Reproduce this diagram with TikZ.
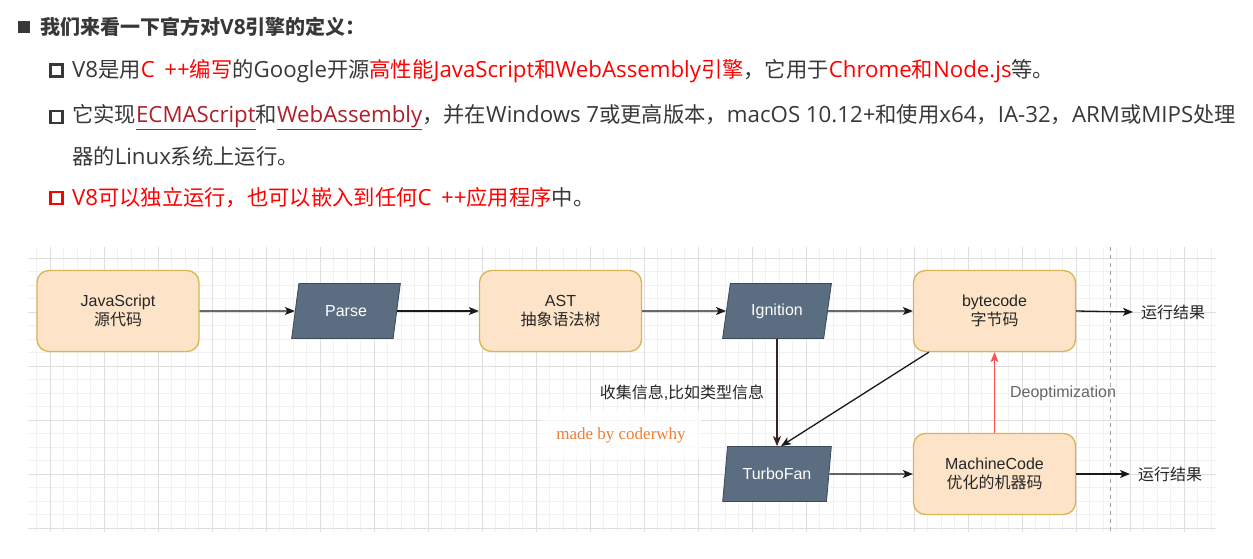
\documentclass[tikz,border=0pt]{standalone}
\usepackage{fontspec}
\usetikzlibrary{shapes.geometric,arrows.meta,calc}
\setmainfont{Open Sans}[Scale=1.045]
\newfontfamily\cjkfont{Noto Sans CJK SC}
\newfontfamily\arialfont{Liberation Sans}
\newfontfamily\timesfont{Liberation Serif}
\newcommand\latinfont{\rmfamily}
% automatic switching between Latin and CJK fonts
\XeTeXinterchartokenstate=1
\newXeTeXintercharclass\cjkclass
\newcount\mycnt
\mycnt="3000 \loop \XeTeXcharclass\mycnt=\cjkclass \advance\mycnt by 1 \ifnum\mycnt<"3040 \repeat
\mycnt="4E00 \loop \XeTeXcharclass\mycnt=\cjkclass \advance\mycnt by 1 \ifnum\mycnt<"A000 \repeat
\mycnt="FF00 \loop \XeTeXcharclass\mycnt=\cjkclass \advance\mycnt by 1 \ifnum\mycnt<"FF60 \repeat
\XeTeXinterchartoks 0 \cjkclass = {\cjkfont}
\XeTeXinterchartoks 4095 \cjkclass = {\cjkfont}
\XeTeXinterchartoks \cjkclass 0 = {\latinfont}
\XeTeXinterchartoks 4095 0 = {\latinfont}

\definecolor{tgray}{HTML}{383838}
\definecolor{hred}{HTML}{FF0000}
\definecolor{ured}{HTML}{B0202A}
\definecolor{boxfill}{HTML}{FDE4C8}
\definecolor{boxstroke}{HTML}{D6B656}
\definecolor{parafill}{HTML}{5B6D80}
\definecolor{parastroke}{HTML}{3A4A5B}
\definecolor{minorg}{HTML}{F1F1F1}
\definecolor{majorg}{HTML}{DEDEDE}
\definecolor{labgray}{HTML}{666666}
\definecolor{wmorange}{HTML}{EE7F33}
\definecolor{arrbrown}{HTML}{3A2222}
\definecolor{deored}{HTML}{FF5050}

\newcommand\topfont{\def\latinfont{\rmfamily}\rmfamily\fontsize{21.3}{25}\selectfont}
\newcommand\diagfont{\def\latinfont{\arialfont}\arialfont\fontsize{16}{19}\selectfont}
\newcommand\wmfont{\def\latinfont{\timesfont}\timesfont\fontsize{17}{20}\selectfont}
\newcommand\ulx[1]{\textcolor{ured}{\underline{#1}}}

\tikzset{
  toptext/.style={anchor=west, inner sep=0pt, text=tgray, font=\topfont},
  sqfill/.style={rectangle, fill=tgray, minimum size=12pt, inner sep=0pt},
  sqbox/.style={rectangle, draw=tgray, line width=2.6pt, minimum size=12pt, inner sep=0pt},
  codebox/.style={rectangle, rounded corners=12pt, draw=boxstroke, line width=1.3pt,
    fill=boxfill, minimum width=162pt, minimum height=81pt, align=center, font=\diagfont, text=black!85},
  para/.style={trapezium, trapezium left angle=74, trapezium right angle=106,
    trapezium stretches=true, minimum width=109pt, minimum height=55pt, inner sep=0pt,
    fill=parafill, draw=parastroke, line width=0.8pt, text=white, font=\diagfont},
  plainlab/.style={inner sep=0pt, font=\diagfont, text=black!85},
  arr/.style={draw=black!90, line width=1.3pt, -{Stealth[length=10pt,width=8pt,inset=2.5pt]}},
  minorgrid/.style={draw=minorg, line width=0.8pt},
  majorgrid/.style={draw=majorg, line width=0.9pt}
}

\begin{document}
\begin{tikzpicture}[x=1pt,y=-1pt]
\useasboundingbox (0,0) rectangle (1253,558);
\fill[white] (0,0) rectangle (1253,558);

% ---- top text ----
\node[sqfill] (b1) at (23.5,27) {};
\node[toptext, font=\topfont\bfseries\fontsize{20}{24}\selectfont] (l1) at (40,27) {我们来看一下官方对V8引擎的定义：};
\node[sqbox] (b2) at (56.5,70.5) {};
\node[toptext] (l2) at (72,71) {V8是用\textcolor{hred}{C\,\ ++编写}的Google开源\textcolor{hred}{高性能JavaScript和WebAssembly引擎}，它用于\textcolor{hred}{Chrome和Node.js}等。};
\node[sqbox] (b3) at (56.5,117) {};
\node[toptext] (l3) at (72,117) {它实现\ulx{ECMAScript}和\ulx{WebAssembly}，并在Windows 7或更高版本，macOS 10.12+和使用x64，IA-32，ARM或MIPS处理};
\node[toptext] (l4) at (72,156) {器的Linux系统上运行。};
\node[sqbox, draw=hred] (b5) at (56.5,198) {};
\node[toptext, text=hred] (l5) at (72,198) {V8可以独立运行，也可以嵌入到任何C\,\ ++应用程序\textcolor{tgray}{中。}};

% ---- grid ----
\foreach \k in {-1,...,86} \draw[minorgrid] ({50+13.5*\k},247) -- ({50+13.5*\k},532);
\foreach \k in {0,...,20} \draw[minorgrid] (28,{258+13.5*\k}) -- (1216,{258+13.5*\k});
\foreach \k in {0,...,21} \draw[majorgrid] ({50+54*\k},247) -- ({50+54*\k},532);
\foreach \k in {0,...,5} \draw[majorgrid] (28,{258+54*\k}) -- (1216,{258+54*\k});
\draw[draw=black!35, line width=0.8pt, dash pattern=on 4pt off 4pt] (1110,247) -- (1110,532);

% ---- watermark ----
\node[fill=white, fill opacity=0.75, text opacity=1, text=wmorange, font=\wmfont,
      minimum width=160pt, minimum height=48pt, inner sep=0pt] (wm) at (621,435) {made by coderwhy};

% ---- nodes ----
\node[codebox] (js) at (118,311) {JavaScript\\源代码};
\node[para] (parse) at (346,311) {Parse};
\node[codebox] (ast) at (560.5,311) {AST\\抽象语法树};
\node[para] (ign) at (777,311) {Ignition};
\node[codebox] (bc) at (994.5,311) {bytecode\\字节码};
\node[plainlab, anchor=west] (r1) at (1141,312) {运行结果};
\node[para] (tf) at (777,474) {TurboFan};
\node[codebox] (mc) at (994.5,474) {MachineCode\\优化的机器码};
\node[plainlab, anchor=west] (r2) at (1138,474) {运行结果};
\node[plainlab, text=labgray] (deo) at (1063,393) {Deoptimization};
\node[plainlab] (collect) at (682,393) {收集信息,比如类型信息};

% ---- connectors ----
\draw[arr] (js) -- (parse);
\draw[arr] (parse) -- (ast);
\draw[arr] (ast) -- (ign);
\draw[arr] (ign) -- (bc);
\draw[arr] (bc.east) -- ($(r1.west)+(-8,0)$);
\draw[arr, draw=arrbrown] (ign.south -| ign.center) -- (tf.north -| tf.center);
\draw[arr] ($(bc.south west)+(16,0)$) -- ($(tf.north -| tf.center)+(4,0)$);
\draw[arr] (tf) -- (mc);
\draw[arr] (mc.east) -- ($(r2.west)+(-8,0)$);
\draw[arr, draw=deored, line width=1pt] (mc.north) -- (bc.south);
\end{tikzpicture}
\end{document}
